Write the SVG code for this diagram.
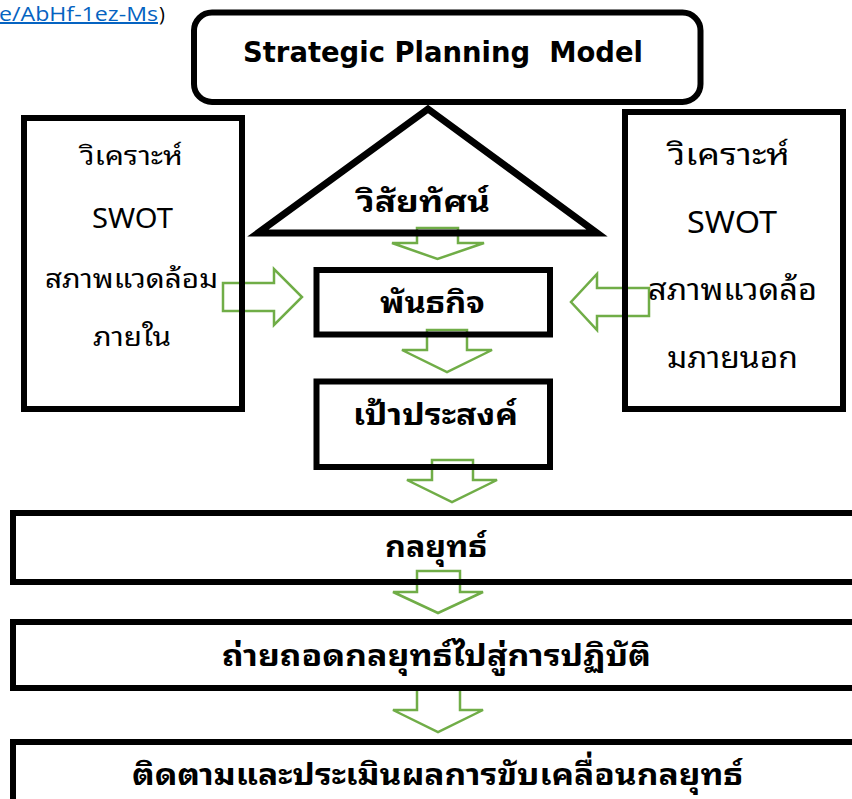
<svg xmlns="http://www.w3.org/2000/svg" width="852" height="799" viewBox="0 0 852 799">
<style>
.box{fill:#fff;stroke:#000;stroke-width:6}
.arr{fill:#fff;stroke:#70AD47;stroke-width:2.5;stroke-linejoin:miter}
.th{font-family:"Noto Sans Thai Looped","Tahoma","Leelawadee UI","Noto Sans Thai","Noto Sans","DejaVu Sans",sans-serif;fill:#000}
.reg{font-weight:normal}
.b{font-weight:bold}
.en{font-family:"DejaVu Sans","Liberation Sans",sans-serif;font-weight:bold;fill:#000}
</style>
<rect width="852" height="799" fill="#fff"/>
<g id="link">
<text x="-1" y="21" font-family="Open Sans, Liberation Sans, sans-serif" font-size="20" fill="#0563C1" text-decoration="underline" textLength="159" lengthAdjust="spacingAndGlyphs">e/AbHf-1ez-Ms</text>
<text x="159" y="21" font-family="Open Sans, Liberation Sans, sans-serif" font-size="20" fill="#000">)</text>
</g>
<g id="connectors">
<polygon class="arr" points="417,228 458,228 458,243 484,243 437.5,259 392,243 417,243"/>
<polygon class="arr" points="427,330 467,330 467,350 492,350 447,372 402,350 427,350"/>
<polygon class="arr" points="432,460 473,460 473,480 497,480 452,502 407,480 432,480"/>
<polygon class="arr" points="417,571 460,571 460,592 483,592 438,613 393,592 417,592"/>
<polygon class="arr" points="417,689 460,689 460,710 483,710 438,732 393,710 417,710"/>
<polygon class="arr" points="223,283 274,283 274,269 302,297 274,325 274,311 223,311"/>
<polygon class="arr" points="649,288 597,288 597,274 571,302 597,330 597,316 649,316"/>
</g>
<g id="title">
<rect x="194" y="12.5" width="506.5" height="89.5" rx="18" ry="18" class="box"/>
<text x="443" y="62" class="en" font-size="28" text-anchor="middle" xml:space="preserve" textLength="400" lengthAdjust="spacingAndGlyphs">Strategic Planning  Model</text>
</g>
<g id="vision">
<polygon points="428,109 258,233 597,233" fill="#fff" fill-opacity="0" stroke="#000" stroke-width="7" stroke-linejoin="miter" stroke-miterlimit="10"/>
<text x="423.5" y="212" class="th b" font-size="30" text-anchor="middle" textLength="133" lengthAdjust="spacingAndGlyphs">วิสัยทัศน์</text>
</g>
<g id="internal">
<rect x="24" y="118" width="218" height="291" class="box" fill-opacity="0"/>
<text x="131.5" y="165" class="th reg" font-size="26" text-anchor="middle" textLength="103" lengthAdjust="spacingAndGlyphs">วิเคราะห์</text>
<text x="132.5" y="228" class="th reg" font-size="27" text-anchor="middle" textLength="81" lengthAdjust="spacingAndGlyphs">SWOT</text>
<text x="131.5" y="288" class="th reg" font-size="26" text-anchor="middle" textLength="173" lengthAdjust="spacingAndGlyphs">สภาพแวดล้อม</text>
<text x="132" y="346" class="th reg" font-size="26" text-anchor="middle" textLength="78" lengthAdjust="spacingAndGlyphs">ภายใน</text>
</g>
<g id="external">
<rect x="625" y="112" width="218" height="297" class="box" fill-opacity="0"/>
<text x="729" y="165" class="th reg" font-size="29" text-anchor="middle" textLength="122" lengthAdjust="spacingAndGlyphs">วิเคราะห์</text>
<text x="732" y="233" class="th reg" font-size="30" text-anchor="middle" textLength="90" lengthAdjust="spacingAndGlyphs">SWOT</text>
<text x="732.5" y="300" class="th reg" font-size="29" text-anchor="middle" textLength="169" lengthAdjust="spacingAndGlyphs">สภาพแวดล้อ</text>
<text x="732.5" y="368" class="th reg" font-size="29" text-anchor="middle" textLength="131" lengthAdjust="spacingAndGlyphs">มภายนอก</text>
</g>
<g id="mission">
<rect x="316.5" y="270" width="233.5" height="64.5" class="box" fill-opacity="0"/>
<text x="432.5" y="313" class="th b" font-size="30" text-anchor="middle" textLength="105" lengthAdjust="spacingAndGlyphs">พันธกิจ</text>
</g>
<g id="objective">
<rect x="316.5" y="381.5" width="233.5" height="85.5" class="box" fill-opacity="0"/>
<text x="435.5" y="425" class="th b" font-size="30" text-anchor="middle" textLength="165" lengthAdjust="spacingAndGlyphs">เป้าประสงค์</text>
</g>
<g id="strategy">
<rect x="13" y="513" width="860" height="69" class="box" fill-opacity="0"/>
<text x="436" y="557" class="th b" font-size="30" text-anchor="middle" textLength="102" lengthAdjust="spacingAndGlyphs">กลยุทธ์</text>
</g>
<g id="implementation">
<rect x="13" y="622" width="860" height="66" class="box" fill-opacity="0"/>
<text x="436.5" y="666" class="th b" font-size="30" text-anchor="middle" textLength="429" lengthAdjust="spacingAndGlyphs">ถ่ายถอดกลยุทธ์ไปสู่การปฏิบัติ</text>
</g>
<g id="monitoring">
<rect x="13" y="742" width="860" height="80" class="box" fill-opacity="0"/>
<text x="437.5" y="785" class="th b" font-size="30" text-anchor="middle" textLength="611" lengthAdjust="spacingAndGlyphs">ติดตามและประเมินผลการขับเคลื่อนกลยุทธ์</text>
</g>
</svg>
